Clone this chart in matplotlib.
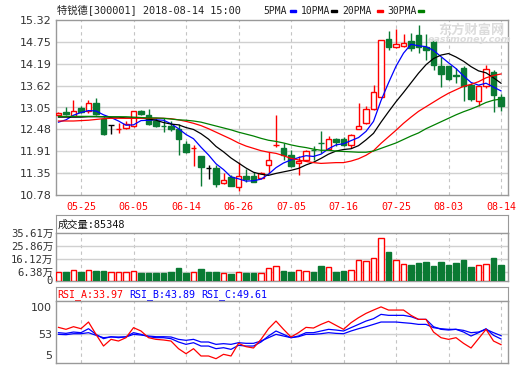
import numpy as np
import matplotlib
matplotlib.use("Agg")
import matplotlib.pyplot as plt
from matplotlib.patches import Rectangle

# 特锐德 daily K line, 2018-05-22 .. 2018-08-14 (60 trading days)
opens = [12.86, 12.94, 12.83, 13.04, 12.97, 13.17, 12.75, 12.59, 12.48, 12.51,
         12.58, 12.95, 12.85, 12.71, 12.57, 12.58, 12.49, 12.10, 11.99, 11.78,
         11.48, 11.48, 11.08, 11.24, 11.00, 11.28, 11.26, 11.22, 11.57, 12.07,
         12.00, 11.81, 11.60, 11.70, 11.96, 12.14, 11.98, 12.23, 12.22, 12.09,
         12.50, 12.66, 13.02, 13.31, 14.83, 14.61, 14.64, 14.78, 14.92, 14.63,
         14.78, 14.12, 14.12, 13.89, 14.08, 13.64, 13.21, 13.60, 13.97, 13.31]
closes = [12.92, 12.89, 12.95, 12.93, 13.16, 12.89, 12.36, 12.59, 12.50, 12.61,
          12.95, 12.89, 12.63, 12.58, 12.56, 12.50, 12.22, 11.90, 12.00, 11.50,
          11.48, 11.07, 11.16, 11.02, 11.26, 11.20, 11.13, 11.35, 11.68, 12.09,
          11.81, 11.52, 11.67, 11.93, 11.95, 12.13, 12.24, 12.16, 12.07, 12.33,
          12.56, 13.02, 13.45, 14.80, 14.62, 14.70, 14.72, 14.59, 14.61, 14.55,
          14.16, 13.92, 13.80, 13.88, 13.60, 13.28, 13.60, 14.06, 13.38, 13.08]
highs = [12.94, 13.05, 13.25, 13.09, 13.25, 13.30, 12.80, 12.59, 12.64, 12.69,
         12.97, 12.99, 13.02, 12.78, 12.78, 12.69, 12.62, 12.19, 12.09, 11.80,
         11.57, 11.57, 11.34, 11.29, 11.64, 11.46, 11.38, 11.38, 11.90, 12.86,
         12.13, 11.96, 11.78, 11.96, 12.06, 12.43, 12.30, 12.26, 12.28, 12.36,
         13.17, 13.08, 13.64, 14.80, 15.04, 15.09, 14.96, 14.98, 15.20, 14.96,
         14.78, 14.35, 14.12, 14.08, 14.12, 13.69, 13.64, 14.16, 14.01, 13.40]
lows = [12.85, 12.85, 12.82, 12.92, 12.91, 12.86, 12.33, 12.36, 12.39, 12.48,
        12.55, 12.86, 12.60, 12.54, 12.41, 12.43, 11.81, 11.88, 11.54, 11.02,
        11.20, 10.98, 11.07, 11.01, 10.89, 11.13, 11.12, 11.20, 11.35, 12.02,
        11.70, 11.50, 11.31, 11.67, 11.70, 11.87, 11.97, 12.06, 12.04, 12.00,
        12.50, 12.61, 12.99, 13.31, 14.54, 14.59, 14.62, 14.51, 14.46, 14.29,
        14.03, 13.57, 13.77, 13.69, 13.21, 13.21, 13.08, 13.56, 12.93, 12.97]

ma5 = [12.67, 12.73, 12.85, 12.92, 12.97, 12.96, 12.86, 12.79, 12.70, 12.59,
       12.60, 12.71, 12.72, 12.73, 12.72, 12.63, 12.50, 12.35, 12.24, 12.02,
       11.82, 11.59, 11.44, 11.25, 11.20, 11.14, 11.15, 11.19, 11.32, 11.49,
       11.61, 11.69, 11.75, 11.80, 11.78, 11.84, 11.98, 12.08, 12.11, 12.19,
       12.27, 12.43, 12.69, 13.23, 13.69, 14.12, 14.46, 14.69, 14.65, 14.63,
       14.53, 14.37, 14.21, 14.06, 13.87, 13.70, 13.63, 13.68, 13.58, 13.48]
ma10 = [12.80, 12.80, 12.80, 12.80, 12.81, 12.81, 12.81, 12.80, 12.80, 12.78,
        12.78, 12.78, 12.75, 12.72, 12.66, 12.62, 12.60, 12.53, 12.48, 12.37,
        12.23, 12.04, 11.90, 11.74, 11.61, 11.48, 11.37, 11.32, 11.29, 11.34,
        11.38, 11.42, 11.47, 11.56, 11.63, 11.73, 11.84, 11.92, 11.96, 11.98,
        12.06, 12.21, 12.38, 12.67, 12.94, 13.20, 13.44, 13.69, 13.94, 14.16,
        14.32, 14.41, 14.45, 14.36, 14.25, 14.11, 14.00, 13.95, 13.82, 13.68]
ma20 = [12.70, 12.70, 12.70, 12.71, 12.72, 12.74, 12.76, 12.77, 12.77, 12.77,
        12.77, 12.77, 12.77, 12.77, 12.77, 12.76, 12.73, 12.69, 12.64, 12.58,
        12.50, 12.41, 12.32, 12.23, 12.13, 12.05, 11.99, 11.93, 11.89, 11.86,
        11.80, 11.73, 11.69, 11.65, 11.62, 11.60, 11.61, 11.62, 11.62, 11.66,
        11.72, 11.81, 11.93, 12.12, 12.29, 12.46, 12.64, 12.80, 12.95, 13.07,
        13.19, 13.31, 13.42, 13.51, 13.60, 13.65, 13.72, 13.82, 13.88, 13.92]
ma30 = [12.82, 12.82, 12.82, 12.82, 12.82, 12.82, 12.81, 12.81, 12.81, 12.81,
        12.80, 12.79, 12.78, 12.78, 12.77, 12.75, 12.73, 12.72, 12.70, 12.67,
        12.62, 12.57, 12.52, 12.47, 12.41, 12.36, 12.31, 12.25, 12.20, 12.17,
        12.13, 12.08, 12.04, 12.01, 11.97, 11.94, 11.94, 11.92, 11.91, 11.90,
        11.89, 11.89, 11.92, 11.99, 12.06, 12.13, 12.22, 12.31, 12.39, 12.50,
        12.59, 12.68, 12.77, 12.86, 12.94, 13.01, 13.09, 13.18, 13.24, 13.27]

# volume in 万 shares
volumes = [6.6, 6.6, 7.8, 6.6, 7.8, 7.1, 7.1, 6.1, 6.1, 6.1,
           7.1, 5.8, 5.8, 5.8, 5.8, 6.6, 9.6, 5.8, 6.6, 8.6,
           6.6, 6.6, 5.8, 4.8, 6.1, 5.8, 5.8, 5.3, 9.1, 10.8,
           7.1, 6.1, 7.8, 7.1, 6.1, 10.8, 9.8, 6.6, 7.3, 7.8,
           15.3, 14.5, 16.5, 32.2, 21.2, 15.3, 12.3, 11.5, 13.3, 13.8,
           10.8, 13.8, 11.5, 13.3, 15.3, 10.3, 11.5, 12.3, 17.0, 11.5]

rsi_a = [64.0, 60.6, 65.2, 61.7, 73.3, 51.9, 31.6, 43.2, 40.3, 46.1,
         63.5, 57.7, 46.1, 43.2, 42.1, 40.3, 27.0, 18.3, 27.0, 14.3,
         14.3, 9.6, 17.2, 14.3, 36.3, 30.5, 28.2, 43.2, 61.7, 75.0,
         60.6, 47.3, 54.8, 64.0, 62.9, 69.2, 74.5, 67.5, 60.6, 72.1,
         80.8, 88.3, 94.1, 99.6, 94.1, 94.1, 94.1, 84.9, 77.9, 77.9,
         55.9, 46.1, 43.2, 46.1, 36.3, 28.2, 44.4, 60.6, 40.3, 33.97]
rsi_b = [54.8, 53.6, 55.9, 54.8, 61.7, 51.9, 44.4, 47.8, 46.1, 47.8,
         54.8, 51.9, 47.8, 46.1, 46.1, 44.4, 38.6, 34.5, 37.4, 31.6,
         31.6, 27.0, 28.7, 25.8, 32.8, 31.6, 31.6, 38.6, 49.0, 57.7,
         51.9, 46.1, 49.0, 54.8, 54.8, 57.7, 60.6, 59.4, 57.7, 63.5,
         69.2, 75.0, 79.1, 86.6, 84.9, 84.9, 84.9, 82.6, 77.9, 77.9,
         65.2, 60.6, 59.4, 60.6, 55.9, 49.0, 54.8, 61.7, 50.2, 43.89]
rsi_c = [51.9, 51.3, 53.0, 53.0, 54.8, 50.2, 46.1, 47.3, 47.3, 47.3,
         51.9, 50.7, 49.0, 47.8, 47.8, 47.3, 43.2, 41.5, 43.2, 38.6,
         38.6, 34.5, 35.7, 34.5, 37.4, 36.3, 36.3, 40.3, 46.1, 51.9,
         49.0, 46.1, 47.8, 51.9, 51.9, 53.0, 54.8, 53.6, 53.0, 57.7,
         61.7, 65.2, 69.2, 73.3, 73.3, 73.3, 72.1, 71.0, 69.2, 69.2,
         63.5, 61.7, 60.6, 60.6, 58.8, 54.8, 55.9, 60.6, 54.8, 49.61]

date_idx = [3, 10, 17, 24, 31, 38, 45, 52, 59]
date_labels = ["05-25", "06-05", "06-14", "06-26", "07-05",
               "07-16", "07-25", "08-03", "08-14"]
price_ticks = [15.32, 14.75, 14.19, 13.62, 13.05, 12.48, 11.91, 11.35, 10.78]
vol_ticks = [0, 6.38, 16.12, 25.86, 35.61]
rsi_ticks = [5, 53, 100]

RED = "#ff0000"
GREEN = "#0a7a33"
BLUE = "#0000ff"
BORDER = "#999999"
GRID = "#d0d0d0"
MONO = ["DejaVu Sans Mono", "Noto Sans CJK SC"]

W, H = 520, 365
plt.rcParams["font.family"] = MONO


def px_box(x0, y0, x1, y1):
    # pixel box with top-left origin -> figure fraction
    return [x0 / W, 1 - y1 / H, (x1 - x0) / W, (y1 - y0) / H]


def frame(ax):
    for sp in ax.spines.values():
        sp.set_color(BORDER)
        sp.set_linewidth(1)
    ax.tick_params(length=0)
    ax.set_xlim(-0.333, 59.93)


def vgrid(ax):
    for t in date_idx:
        ax.axvline(t, color="#c4c4c4", lw=0.8, ls=(0, (3, 3)), zorder=0)


def header(rect):
    ax = fig.add_axes(px_box(*rect))
    for sp in ax.spines.values():
        sp.set_color(BORDER)
    ax.set_xticks([])
    ax.set_yticks([])
    return ax


fig = plt.figure(figsize=(W / 100, H / 100), dpi=100, facecolor="white")

idx = np.arange(len(closes))
o = np.array(opens)
c = np.array(closes)
up = c > o
down = c < o
flat = c == o

# ---- price panel ----
ax = fig.add_axes(px_box(56, 20, 508, 195))
frame(ax)
vgrid(ax)
for p in price_ticks[1:-1]:
    ax.axhline(p, color=GRID, lw=1, zorder=0)

wick_col = np.where(up, RED, np.where(down, GREEN, "black"))
ax.vlines(idx, lows, highs, colors=wick_col, lw=1, zorder=2)
body_lo = np.minimum(o, c)
body_h = np.abs(c - o)
ax.bar(idx[up], body_h[up], bottom=body_lo[up], width=0.72,
       facecolor="white", edgecolor=RED, lw=1, zorder=3)
ax.bar(idx[down], body_h[down], bottom=body_lo[down], width=0.72,
       facecolor=GREEN, edgecolor=GREEN, lw=1, zorder=3)
ax.hlines(c[flat], idx[flat] - 0.36, idx[flat] + 0.36, color="black", lw=1, zorder=3)

for vals, col in [(ma5, BLUE), (ma10, "black"), (ma20, RED), (ma30, "#008000")]:
    ax.plot(idx, vals, color=col, lw=0.9, zorder=4)

ax.set_ylim(10.78, 15.32)
ax.set_yticks(price_ticks, labels=[f"{p:.2f}" for p in price_ticks],
              fontsize=8, fontfamily="DejaVu Sans", color="#333333")
ax.set_xticks(date_idx, labels=date_labels, fontsize=7.2, color=RED)
ax.tick_params(axis="y", pad=3)
ax.tick_params(axis="x", pad=5)

# title and MA legend
fig.text(57 / W, 1 - 10 / H, "特锐德[300001] 2018-08-14 15:00",
         fontsize=7.4, va="center", color="#222222")
legend = [("5PMA", 263, 290, BLUE), ("10PMA", 301, 331, "black"),
          ("20PMA", 342, 377, RED), ("30PMA", 387, 418, "#008000")]
for name, tx, dx, col in legend:
    fig.text(tx / W, 1 - 11 / H, name, fontsize=7.0, va="center", color="#222222")
    fig.add_artist(Rectangle((dx / W, 1 - 12 / H), 6 / W, 2.2 / H,
                             transform=fig.transFigure, color=col))

# faint watermark
fig.text(438 / W, 1 - 30 / H, "东方财富网", fontsize=9.5, fontweight="bold",
         fontfamily="Noto Sans CJK SC", color="#dcdcdc", va="center")
fig.text(428 / W, 1 - 40 / H, "eastmoney.com", fontsize=6.8, fontweight="bold",
         fontstyle="italic", fontfamily="DejaVu Sans", color="#dcdcdc", va="center")

# ---- volume panel ----
hv = header((56, 215, 508, 233))
hv.text(0.004, 0.45, "成交量:85348", fontsize=7.4, va="center", color="#111111",
        transform=hv.transAxes)

av = fig.add_axes(px_box(56, 233, 508, 280.5))
frame(av)
vgrid(av)
for v in vol_ticks[1:-1]:
    av.axhline(v, color=GRID, lw=1, zorder=0)
vol = np.array(volumes)
prev = np.concatenate([[c[0]], c[:-1]])
vol_up = up | (flat & (c >= prev))
av.bar(idx[vol_up], vol[vol_up], width=0.72, facecolor="white",
       edgecolor=RED, lw=1, zorder=3)
av.bar(idx[~vol_up], vol[~vol_up], width=0.72, facecolor=GREEN,
       edgecolor=GREEN, lw=1, zorder=3)
av.set_ylim(0, 35.61)
av.set_xticks([])
av.set_yticks(vol_ticks, labels=["0"] + [f"{v:.2f}万" for v in vol_ticks[1:]],
              fontsize=7.6, color="#333333")
av.tick_params(axis="y", pad=2)

# ---- RSI panel ----
hr = header((56, 287, 508, 301.3))
for txt, tx, col in [("RSI_A:33.97", 57, RED), ("RSI_B:43.89", 129, BLUE),
                     ("RSI_C:49.61", 201, BLUE)]:
    hr.text((tx - 56) / 452, 0.45, txt, fontsize=7.2, va="center", color=col,
            transform=hr.transAxes)

ar = fig.add_axes(px_box(56, 301.3, 508, 363.3))
frame(ar)
vgrid(ar)
ar.axhline(53, color=GRID, lw=1, zorder=0)
ar.plot(idx, rsi_c, color=BLUE, lw=0.9, zorder=3)
ar.plot(idx, rsi_b, color=BLUE, lw=0.9, zorder=3)
ar.plot(idx, rsi_a, color=RED, lw=0.9, zorder=4)
ar.set_ylim(1.6, 109.3)
ar.set_xticks([])
ar.set_yticks(rsi_ticks, labels=[str(t) for t in rsi_ticks],
              fontsize=8, fontfamily="DejaVu Sans", color="#333333")
ar.get_yticklabels()[0].set_va("bottom")
ar.tick_params(axis="y", pad=3)

fig.savefig("out.png", dpi=100, facecolor="white")
